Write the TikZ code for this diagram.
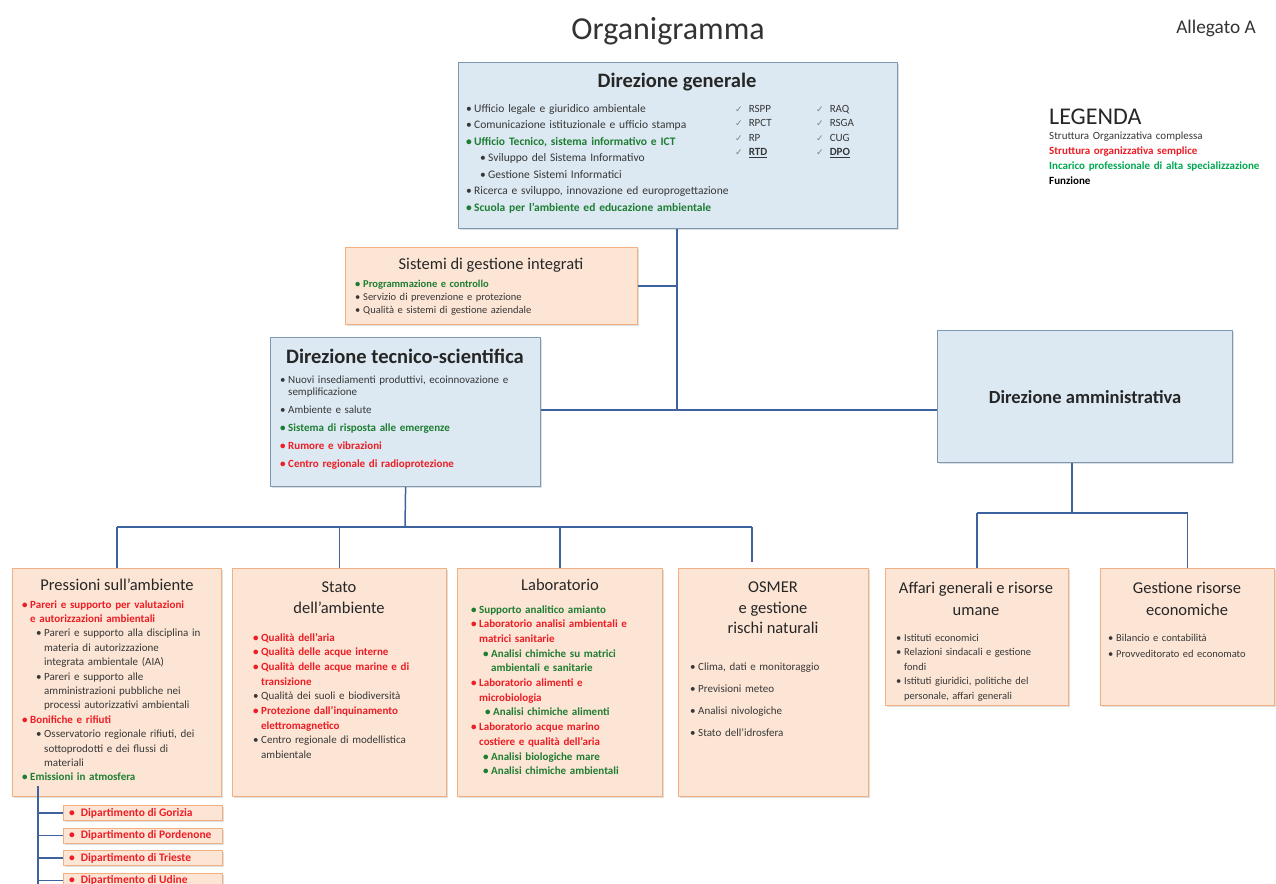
\documentclass[tikz,border=0pt]{standalone}
\usepackage{fontspec}
\setmainfont{Carlito}
\newfontfamily\ckfont{DejaVu Sans}
\usetikzlibrary{positioning,shadows}

\definecolor{blufill}{RGB}{220,233,242}
\definecolor{bluedge}{RGB}{125,152,178}
\definecolor{orafill}{RGB}{252,229,213}
\definecolor{oraedge}{RGB}{241,176,130}
\definecolor{linkblu}{RGB}{62,98,158}
\definecolor{txt}{RGB}{55,55,55}
\definecolor{redt}{RGB}{238,28,36}
\definecolor{grnt}{RGB}{30,125,50}
\definecolor{legr}{RGB}{0,168,80}

% voce di elenco: {rientro}{stile}{testo}
\newcommand\itm[3]{\hangindent=\dimexpr#1pt+8pt\relax\hangafter=1\noindent{#2\hspace*{#1pt}\makebox[8pt][l]{\textbullet}#3\par}}
\newcommand\ck{{\ckfont\fontsize{9}{9}\selectfont\color{gray}\char"2713}\hspace{6pt}}
\def\rdb{\color{redt}\bfseries}
\def\grb{\color{grnt}\bfseries}

\begin{document}
\begin{tikzpicture}[x=1pt, y=-1pt,
  box/.style={line width=1.2pt, anchor=north west, inner sep=0pt,
    drop shadow={shadow xshift=1.5pt, shadow yshift=-1.5pt, opacity=.25}},
  blubox/.style={box, draw=bluedge, fill=blufill},
  orabox/.style={box, draw=oraedge, fill=orafill},
  ttl/.style={font=\fontsize{16.5}{21}\selectfont, text=black!85, align=center, inner sep=0pt},
  bttl/.style={font=\bfseries\fontsize{20.5}{24}\selectfont, text=black!85, inner sep=0pt},
  lst/.style={anchor=base west, inner sep=0pt, align=left, text width=#1pt, text=txt},
  link/.style={draw=linkblu, line width=1.5pt}]
  %----- riquadro: (stile, nome, angolo NW, larghezza, altezza) -----
  \def\orgbox#1#2#3#4#5{\node[#1, minimum width=#4pt, minimum height=#5pt] (#2) at (#3) {};}

  \useasboundingbox (0,0) rectangle (1276,883);

  %----- titolo e legenda -----
  \node[font=\fontsize{32}{36}\selectfont, text=black!80] (titolo) at (668,31) {Organigramma};
  \node[font=\fontsize{19.3}{21}\selectfont, text=black!80] (allegato) at (1216,28) {Allegato A};
  \node[anchor=west, font=\fontsize{24}{26}\selectfont, text=black!85, inner sep=0pt] (legenda) at (1049,117) {LEGENDA};
  \node[lst=240, font=\fontsize{11}{15}\selectfont] (legenda-l) at (1049,139) {Struttura Organizzativa complessa\\
    {\color{redt}\bfseries Struttura organizzativa semplice}\\
    {\color{legr}\bfseries Incarico professionale di alta specializzazione}\\
    {\color{black}\bfseries Funzione}};

  %----- Direzione generale -----
  \orgbox{blubox}{dgen}{458,62}{439}{166}
  \node[bttl] (dgen-t) at (677,82) {Direzione generale};
  \node[lst=280, font=\fontsize{11.5}{16.5}\selectfont] (dgen-l) at (466,112) {%
    \itm{0}{}{Ufficio legale e giuridico ambientale}
    \itm{0}{}{Comunicazione istituzionale  e ufficio stampa}
    \itm{0}{\grb}{Ufficio Tecnico, sistema informativo e ICT}
    \itm{14}{}{Sviluppo del Sistema Informativo}
    \itm{14}{}{Gestione Sistemi Informatici}
    \itm{0}{}{Ricerca e sviluppo, innovazione ed europrogettazione}
    \itm{0}{\grb}{Scuola per l'ambiente ed educazione ambientale}};
  \node[lst=70, font=\fontsize{11}{14.5}\selectfont] (dgen-c1) at (735,112) {\ck RSPP\\ \ck RPCT\\ \ck RP\\ \ck\underline{\textbf{RTD}}};
  \node[lst=70, font=\fontsize{11}{14.5}\selectfont] (dgen-c2) at (816,112) {\ck RAQ\\ \ck RSGA\\ \ck CUG\\ \ck\underline{\textbf{DPO}}};

  %----- Sistemi di gestione integrati -----
  \orgbox{orabox}{sgi}{345,247}{292}{77}
  \node[ttl] (sgi-t) at (491,265) {Sistemi di gestione integrati};
  \node[lst=280, font=\fontsize{10.5}{13}\selectfont] (sgi-l) at (355,287) {%
    \itm{0}{\grb}{Programmazione e controllo}
    \itm{0}{}{Servizio di prevenzione e protezione}
    \itm{0}{}{Qualità e sistemi di gestione aziendale}};

  %----- Direzione tecnico-scientifica -----
  \orgbox{blubox}{dts}{270,337}{270}{149}
  \node[bttl] (dts-t) at (405,356) {Direzione tecnico-scientifica};
  \node[lst=255, font=\fontsize{11}{12.5}\selectfont] (dts-l) at (280,383) {%
    \itm{0}{}{Nuovi insediamenti produttivi, ecoinnovazione e\newline semplificazione}\vspace{5.5pt}
    \itm{0}{}{Ambiente e salute}\vspace{5.5pt}
    \itm{0}{\grb}{Sistema di risposta alle emergenze}\vspace{5.5pt}
    \itm{0}{\rdb}{Rumore e vibrazioni}\vspace{5.5pt}
    \itm{0}{\rdb}{Centro regionale di radioprotezione}};

  %----- Direzione amministrativa -----
  \orgbox{blubox}{da}{937,330}{295}{132}
  \node[bttl, font=\bfseries\fontsize{18.5}{22}\selectfont] (da-t) at (da) {Direzione amministrativa};

  %----- strutture tecniche -----
  \orgbox{orabox}{press}{12,568}{209}{228}
  \node[ttl] (press-t) at (117,585) {Pressioni sull'ambiente};
  \node[lst=200, font=\fontsize{11}{14.4}\selectfont] (press-l) at (22,608) {%
    \itm{0}{\rdb}{Pareri e supporto per valutazioni\newline e autorizzazioni ambientali}
    \itm{14}{}{Pareri e supporto alla disciplina in\newline materia di autorizzazione\newline integrata ambientale (AIA)}
    \itm{14}{}{Pareri e supporto alle\newline amministrazioni pubbliche nei\newline processi autorizzativi ambientali}
    \itm{0}{\rdb}{Bonifiche e rifiuti}
    \itm{14}{}{Osservatorio regionale rifiuti, dei\newline sottoprodotti e dei flussi di\newline materiali}
    \itm{0}{\grb}{Emissioni in atmosfera}};

  \orgbox{orabox}{stato}{232,568}{214}{228}
  \node[ttl] (stato-t) at (339,598) {Stato\\dell'ambiente};
  \node[lst=200, font=\fontsize{11}{14.7}\selectfont] (stato-l) at (253,641) {%
    \itm{0}{\rdb}{Qualità dell'aria}
    \itm{0}{\rdb}{Qualità delle acque interne}
    \itm{0}{\rdb}{Qualità delle acque marine e di\newline transizione}
    \itm{0}{}{Qualità dei suoli e biodiversità}
    \itm{0}{\rdb}{Protezione dall'inquinamento\newline elettromagnetico}
    \itm{0}{}{Centro regionale di modellistica\newline ambientale}};

  \orgbox{orabox}{lab}{457,568}{205}{228}
  \node[ttl] (lab-t) at (560,585) {Laboratorio};
  \node[lst=190, font=\fontsize{11}{14.7}\selectfont] (lab-l) at (471,613) {%
    \itm{0}{\grb}{Supporto analitico amianto}
    \itm{0}{\rdb}{Laboratorio analisi ambientali e\newline matrici sanitarie}
    \itm{12}{\grb}{Analisi chimiche su matrici\newline ambientali e sanitarie}
    \itm{0}{\rdb}{Laboratorio alimenti e\newline microbiologia}
    \itm{14}{\grb}{Analisi chimiche alimenti}
    \itm{0}{\rdb}{Laboratorio acque marino\newline costiere e qualità dell'aria}
    \itm{12}{\grb}{Analisi biologiche mare}
    \itm{12}{\grb}{Analisi chimiche ambientali}};

  \orgbox{orabox}{osmer}{678,568}{190}{228}
  \node[ttl, font=\fontsize{16.5}{20.5}\selectfont] (osmer-t) at (773,608) {OSMER\\e gestione\\rischi naturali};
  \node[lst=175, font=\fontsize{11}{22.3}\selectfont] (osmer-l) at (690,670) {%
    \itm{0}{}{Clima, dati e monitoraggio}
    \itm{0}{}{Previsioni meteo}
    \itm{0}{}{Analisi nivologiche}
    \itm{0}{}{Stato dell'idrosfera}};

  %----- strutture amministrative -----
  \orgbox{orabox}{affari}{885,568}{183}{137}
  \node[ttl, font=\fontsize{16.5}{22}\selectfont] (affari-t) at (976,599) {Affari generali e risorse\\umane};
  \node[lst=170, font=\fontsize{10.5}{14.5}\selectfont] (affari-l) at (896,641) {%
    \itm{0}{}{Istituti economici}
    \itm{0}{}{Relazioni sindacali e gestione\newline fondi}
    \itm{0}{}{Istituti giuridici, politiche del\newline personale, affari generali}};

  \orgbox{orabox}{gest}{1100,568}{174}{137}
  \node[ttl, font=\fontsize{16.5}{22}\selectfont] (gest-t) at (1187,599) {Gestione risorse\\economiche};
  \node[lst=165, font=\fontsize{10.5}{16}\selectfont] (gest-l) at (1108,641) {%
    \itm{0}{}{Bilancio e contabilità}
    \itm{0}{}{Provveditorato ed economato}};

  %----- dipartimenti -----
  \foreach \n/\t [count=\i from 0] in {gor/Gorizia, por/Pordenone, tri/Trieste, udi/Udine}{
    \node[orabox, line width=1pt, minimum width=159pt, minimum height=15pt] (dep-\n) at (63,805+22.5*\i) {};
    \node[anchor=west, inner sep=0pt, text=redt, font=\bfseries\fontsize{11.5}{12}\selectfont] (dep-\n-t) at ([xshift=6pt]dep-\n.west) {\textbullet\hspace{6pt}Dipartimento di \t};
  }

  %----- collegamenti -----
  \coordinate (trunk) at (677,410);
  \draw[link] (trunk |- dgen.south) -- (trunk);
  \draw[link] (sgi.east) -- (sgi.east -| trunk);
  \draw[link] (dts.east |- trunk) -- (da.west |- trunk);

  \coordinate (tbus) at (405,527);
  \coordinate (bus-l) at (117,527);
  \coordinate (bus-r) at (752,527);
  \coordinate (osmer-in) at (752,562);
  \draw[link] (dts.south) -- (tbus);
  \draw[link] (bus-l) -- (bus-r);
  \foreach \b in {press,stato,lab}
    \draw[link] (\b.north |- tbus) -- (\b.north);
  \draw[link] (bus-r) -- (osmer-in);

  \coordinate (abus) at (1072,513);
  \draw[link] (abus |- da.south) -- (abus);
  \draw[link] (affari.north |- abus) -- (gest.north |- abus);
  \foreach \b in {affari,gest}
    \draw[link] (\b.north |- abus) -- (\b.north);

  \coordinate (dep-top) at (38,786);
  \coordinate (dep-end) at (38,890);
  \draw[link] (dep-top) -- (dep-end);
  \foreach \n in {gor,por,tri,udi}
    \draw[link] (dep-top |- dep-\n.west) -- (dep-\n.west);
\end{tikzpicture}
\end{document}
